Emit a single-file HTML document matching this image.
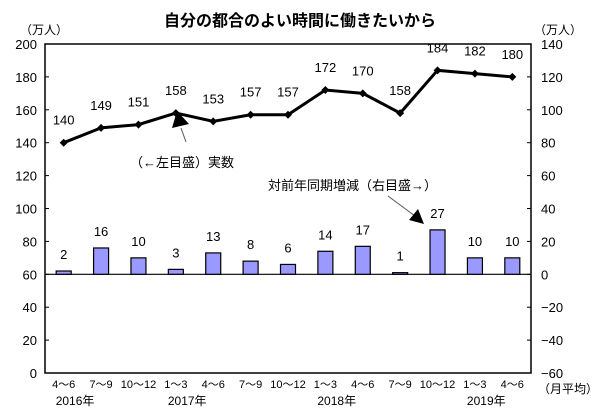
<!DOCTYPE html>
<html><head><meta charset="utf-8"><style>
body{margin:0;background:#fff;}
svg text{font-family:"Liberation Sans","Noto Sans CJK JP",sans-serif;fill:#000;}
</style></head><body>
<svg id="chart" width="600" height="413" viewBox="0 0 600 413" xmlns="http://www.w3.org/2000/svg">
<text x="300" y="26" text-anchor="middle" font-size="16" font-weight="bold">自分の都合のよい時間に働きたいから</text>
<text x="20" y="34" font-size="12">（万人）</text>
<text x="534" y="34" font-size="12">（万人）</text>
<text x="538" y="393" font-size="12">（月平均）</text>
<g id="axes"></g>
<g id="bars"></g>
<g id="line"></g>
<text x="130" y="167" font-size="13">（←左目盛）実数</text>
<line x1="186" y1="142" x2="181" y2="128" stroke="#555" stroke-width="1"/>
<polygon points="177,111 172,128 189,124" fill="#000"/>
<text x="268" y="190" font-size="13">対前年同期増減（右目盛→）</text>
<line x1="388" y1="196" x2="415" y2="216" stroke="#555" stroke-width="1"/>
<polygon points="424,224 409,220 418,209" fill="#000"/>
</svg>
<script>
const categories=["4～6","7～9","10～12","1～3","4～6","7～9","10～12","1～3","4～6","7～9","10～12","1～3","4～6"];
const years=[["2016年",0],["2017年",3],["2018年",7],["2019年",11]];
const actual=[140,149,151,158,153,157,157,172,170,158,184,182,180];
const change=[2,16,10,3,13,8,6,14,17,1,27,10,10];
const leftTicks=[0,20,40,60,80,100,120,140,160,180,200];
const rightTicks=[-60,-40,-20,0,20,40,60,80,100,120,140];
const L=45,R=531,T=44,B=373;
const NS="http://www.w3.org/2000/svg";
const yL=v=>B-(v-0)/200*(B-T);
const yR=v=>B-(v+60)/200*(B-T);
const bw=(R-L)/categories.length;
const xc=i=>L+bw*(i+0.5);
function mk(tag,attrs,parent,txt){const e=document.createElementNS(NS,tag);for(const k in attrs)e.setAttribute(k,attrs[k]);if(txt!==undefined)e.textContent=txt;parent.appendChild(e);return e;}
const ax=document.getElementById('axes');
let f=mk('rect',{x:L,y:T,width:R-L,height:B-T,fill:'none',stroke:'#000','stroke-width':1.5},ax);


leftTicks.forEach(v=>{const y=yL(v);
 let t=mk('line',{x1:L,x2:L+4,y1:y,y2:y,stroke:'#000'},ax);
 
 
 let l=mk('text',{x:L-8,y:y+5,'text-anchor':'end','font-size':13},ax,v);
 
 });
rightTicks.forEach(v=>{const y=yR(v);
 let t=mk('line',{x1:R-4,x2:R,y1:y,y2:y,stroke:'#000'},ax);
 
 
 let l=mk('text',{x:R+10,y:y+5,'font-size':13},ax,v<0?'−'+(-v):v);
 
 });
let z=mk('line',{x1:L,x2:R,y1:yR(0),y2:yR(0),stroke:'#000','stroke-width':1.2},ax);


categories.forEach((c,i)=>{let l=mk('text',{x:xc(i),y:B+15,'text-anchor':'middle','font-size':11},ax,c);
 
 });
years.forEach(([y,i])=>{let l=mk('text',{x:xc(i)-8,y:B+32,'font-size':12},ax,y);
 
 });
const bg=document.getElementById('bars');
change.forEach((v,i)=>{const y0=yR(0),y1=yR(v);
 let r=mk('rect',{x:xc(i)-7.5,y:Math.min(y0,y1),width:15,height:Math.max(Math.abs(y0-y1),1.5),fill:'#9999ff',stroke:'#000','stroke-width':1.2},bg);
 
 
 let t=mk('text',{x:xc(i),y:y1-12,'text-anchor':'middle','font-size':13},bg,v);
 
 });
const lg=document.getElementById('line');
let p=mk('polyline',{points:actual.map((v,i)=>xc(i)+','+yL(v)).join(' '),fill:'none',stroke:'#000','stroke-width':3},lg);


actual.forEach((v,i)=>{const x=xc(i),y=yL(v);
 let m=mk('polygon',{points:`${x},${y-4} ${x+4},${y} ${x},${y+4} ${x-4},${y}`,fill:'#000'},lg);
 
 
 let t=mk('text',{x:x,y:y-18,'text-anchor':'middle','font-size':13},lg,v);
 
 });
</script>
</body></html>
